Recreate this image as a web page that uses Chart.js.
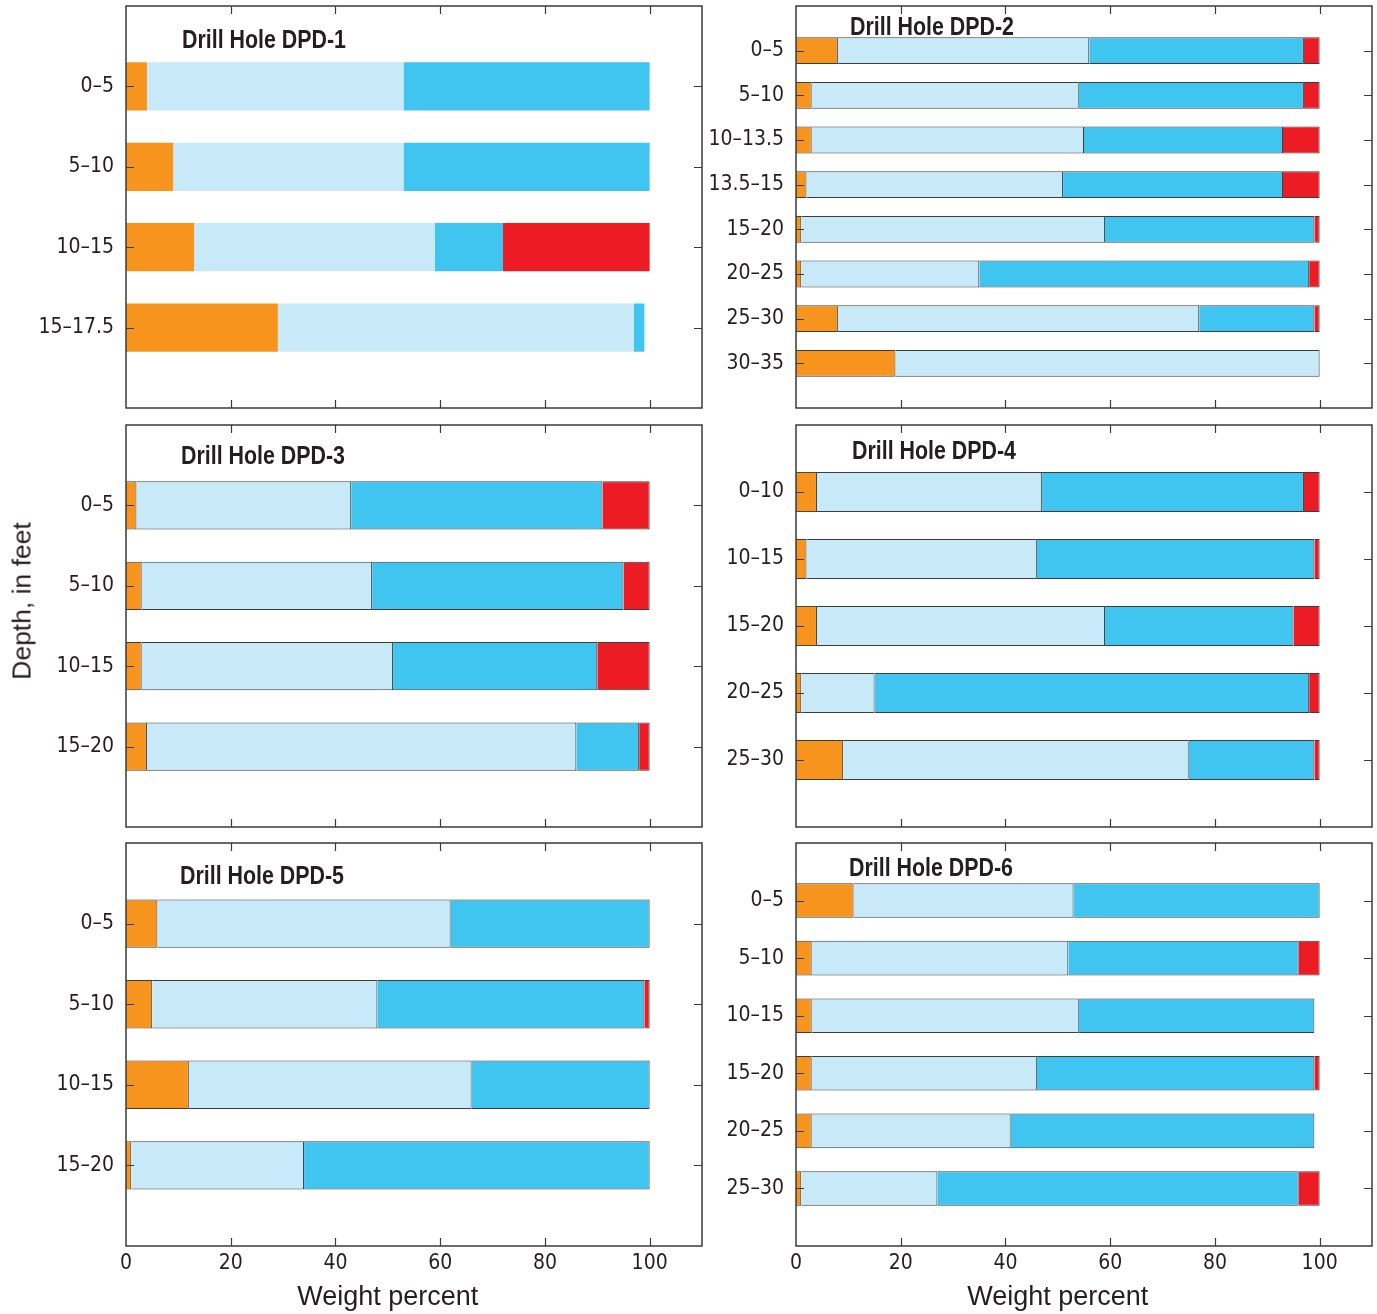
<!DOCTYPE html>
<html><head><meta charset="utf-8">
<script src="https://cdn.jsdelivr.net/npm/chart.js@4.4.1/dist/chart.umd.min.js"></script>
<style>
html,body{margin:0;padding:0;background:#fff;}
#wrap{position:relative;width:1377px;height:1314px;overflow:hidden;background:#fff;}
canvas{position:absolute;}
#ylab{position:absolute;left:22px;top:601px;transform:translate(-50%,-50%) rotate(-90deg);font:26.5px 'Liberation Sans',Arial,sans-serif;color:#231f20;white-space:nowrap;}
</style></head><body>
<div id="wrap">
<canvas id="c1"></canvas><canvas id="c2"></canvas><canvas id="c3"></canvas>
<canvas id="c4"></canvas><canvas id="c5"></canvas><canvas id="c6"></canvas>
<div id="ylab">Depth, in feet</div>
</div>
<script>
// ---------- data ----------
const tickValues = [0, 20, 40, 60, 80, 100];
const seriesNames = ['Gravel', 'Sand', 'Silt', 'Clay'];

const dpd1Depths = ['0–5', '5–10', '10–15', '15–17.5'];
const dpd1Orange = [4, 9, 13, 29];
const dpd1Light  = [49, 44, 46, 68];
const dpd1Blue   = [47, 47, 13, 2];
const dpd1Red    = [0, 0, 28, 0];

const dpd2Depths = ['0–5', '5–10', '10–13.5', '13.5–15', '15–20', '20–25', '25–30', '30–35'];
const dpd2Orange = [8, 3, 3, 2, 1, 1, 8, 19];
const dpd2Light  = [48, 51, 52, 49, 58, 34, 69, 81];
const dpd2Blue   = [41, 43, 38, 42, 40, 63, 22, 0];
const dpd2Red    = [3, 3, 7, 7, 1, 2, 1, 0];

const dpd3Depths = ['0–5', '5–10', '10–15', '15–20'];
const dpd3Orange = [2, 3, 3, 4];
const dpd3Light  = [41, 44, 48, 82];
const dpd3Blue   = [48, 48, 39, 12];
const dpd3Red    = [9, 5, 10, 2];

const dpd4Depths = ['0–10', '10–15', '15–20', '20–25', '25–30'];
const dpd4Orange = [4, 2, 4, 1, 9];
const dpd4Light  = [43, 44, 55, 14, 66];
const dpd4Blue   = [50, 53, 36, 83, 24];
const dpd4Red    = [3, 1, 5, 2, 1];

const dpd5Depths = ['0–5', '5–10', '10–15', '15–20'];
const dpd5Orange = [6, 5, 12, 1];
const dpd5Light  = [56, 43, 54, 33];
const dpd5Blue   = [38, 51, 34, 66];
const dpd5Red    = [0, 1, 0, 0];

const dpd6Depths = ['0–5', '5–10', '10–15', '15–20', '20–25', '25–30'];
const dpd6Orange = [11, 3, 3, 3, 3, 1];
const dpd6Light  = [42, 49, 51, 43, 38, 26];
const dpd6Blue   = [47, 44, 45, 53, 58, 69];
const dpd6Red    = [0, 4, 0, 1, 0, 4];

// ---------- styling ----------
const colors = ['#F7941E', '#C7E9F8', '#40C5F1', '#ED1C24'];
const textColor = '#231f20';
const narrow = "'DejaVu Sans Condensed','Liberation Sans Narrow',sans-serif";
const regular = "'Liberation Sans',Arial,sans-serif";

const framePlugin = {
  id: 'frame',
  afterDatasetsDraw(chart, args, o) {
    const {ctx, chartArea: a, scales: {x, y}} = chart;
    ctx.save();
    ctx.strokeStyle = '#3a3a3a';
    ctx.lineWidth = 1.5;
    ctx.strokeRect(a.left, a.top, a.right - a.left, a.bottom - a.top);
    ctx.lineWidth = 1.2;
    ctx.beginPath();
    tickValues.forEach(v => {
      if (v === 0) return;
      const px = Math.round(x.getPixelForValue(v)) + 0.5;
      ctx.moveTo(px, a.bottom); ctx.lineTo(px, a.bottom - 8);
      ctx.moveTo(px, a.top); ctx.lineTo(px, a.top + 8);
    });
    y.ticks.forEach(t => {
      const lab = y.getLabelForValue(t.value);
      if (!lab) return;
      const py = Math.round(y.getPixelForValue(t.value)) + 0.5;
      ctx.moveTo(a.left, py); ctx.lineTo(a.left + 8, py);
      ctx.moveTo(a.right, py); ctx.lineTo(a.right - 8, py);
    });
    ctx.stroke();
    ctx.fillStyle = textColor;
    // condensed bold title
    ctx.save();
    ctx.font = 'bold 25px ' + regular;
    ctx.textAlign = 'left';
    ctx.textBaseline = 'alphabetic';
    ctx.translate(a.left + o.dx, a.top + o.dy);
    ctx.scale(0.855, 1);
    ctx.fillText(o.title, 0, 0);
    ctx.restore();
    if (o.xTitle) {
      ctx.font = '27px ' + regular;
      ctx.textAlign = 'center';
      ctx.textBaseline = 'alphabetic';
      ctx.fillText(o.xTitle, x.getPixelForValue(50), a.bottom + 59);
    }
    ctx.restore();
  }
};

function makePanel(id, cv, plot, title, dx, dy, depths, series, bordered, bottom) {
  const el = document.getElementById(id);
  el.width = cv.w; el.height = cv.h;
  el.style.left = cv.left + 'px'; el.style.top = cv.top + 'px';
  el.style.width = cv.w + 'px'; el.style.height = cv.h + 'px';
  const yWidth = plot.l - cv.left;
  const padTop = plot.t - cv.top;
  const padRight = cv.left + cv.w - plot.r;
  const xHeight = bottom ? (cv.top + cv.h - plot.b) : 0;
  const padBottom = cv.top + cv.h - plot.b - xHeight;
  const labels = [''].concat(depths).concat(['']);
  const datasets = series.map((vals, i) => ({
    label: seriesNames[i],
    data: [null].concat(vals.map(v => v === 0 ? null : v)).concat([null]),
    backgroundColor: colors[i],
    borderColor: bordered ? '#3d3d3d' : colors[i],
    borderWidth: bordered ? 1 : 0,
    barPercentage: 0.6,
    categoryPercentage: 1.0
  }));
  new Chart(el, {
    type: 'bar',
    data: {labels, datasets},
    plugins: [framePlugin],
    options: {
      indexAxis: 'y',
      responsive: false,
      devicePixelRatio: 1,
      animation: false,
      layout: {autoPadding: false, padding: {left: 0, top: padTop, right: padRight, bottom: padBottom}},
      plugins: {
        legend: {display: false},
        tooltip: {enabled: false},
        frame: {title, dx, dy, xTitle: bottom ? 'Weight percent' : null}
      },
      scales: {
        x: {
          type: 'linear', min: 0, max: 110, stacked: true,
          grid: {display: false, drawTicks: false},
          border: {display: false},
          afterBuildTicks: s => { s.ticks = tickValues.map(v => ({value: v})); },
          afterFit: s => { s.height = xHeight; s.paddingLeft = 0; s.paddingRight = 0; s.paddingTop = 0; s.paddingBottom = 0; },
          ticks: {display: bottom, color: textColor, padding: 5, font: {family: narrow, size: 21}, maxRotation: 0, autoSkip: false}
        },
        y: {
          type: 'category', offset: false, stacked: true,
          grid: {display: false, drawTicks: false},
          border: {display: false},
          afterFit: s => { s.width = yWidth; s.paddingTop = 0; s.paddingBottom = 0; s.paddingLeft = 0; s.paddingRight = 0; },
          ticks: {color: textColor, padding: 12, font: {family: narrow, size: 21}, autoSkip: false}
        }
      }
    }
  });
}

makePanel('c1', {left: 0, top: 0, w: 706, h: 416}, {l: 126, t: 6, r: 702, b: 408},
  'Drill Hole DPD-1', 56, 42, dpd1Depths, [dpd1Orange, dpd1Light, dpd1Blue, dpd1Red], false, false);
makePanel('c2', {left: 706, top: 0, w: 671, h: 416}, {l: 796, t: 6, r: 1372, b: 408},
  'Drill Hole DPD-2', 54, 29, dpd2Depths, [dpd2Orange, dpd2Light, dpd2Blue, dpd2Red], true, false);
makePanel('c3', {left: 0, top: 416, w: 706, h: 420}, {l: 126, t: 425, r: 702, b: 827},
  'Drill Hole DPD-3', 55, 39, dpd3Depths, [dpd3Orange, dpd3Light, dpd3Blue, dpd3Red], true, false);
makePanel('c4', {left: 706, top: 416, w: 671, h: 420}, {l: 796, t: 425, r: 1372, b: 827},
  'Drill Hole DPD-4', 56, 34, dpd4Depths, [dpd4Orange, dpd4Light, dpd4Blue, dpd4Red], true, false);
makePanel('c5', {left: 0, top: 836, w: 706, h: 478}, {l: 126, t: 843, r: 702, b: 1246},
  'Drill Hole DPD-5', 54, 41, dpd5Depths, [dpd5Orange, dpd5Light, dpd5Blue, dpd5Red], true, true);
makePanel('c6', {left: 706, top: 836, w: 671, h: 478}, {l: 796, t: 843, r: 1372, b: 1246},
  'Drill Hole DPD-6', 53, 33, dpd6Depths, [dpd6Orange, dpd6Light, dpd6Blue, dpd6Red], true, true);
</script>
</body></html>
